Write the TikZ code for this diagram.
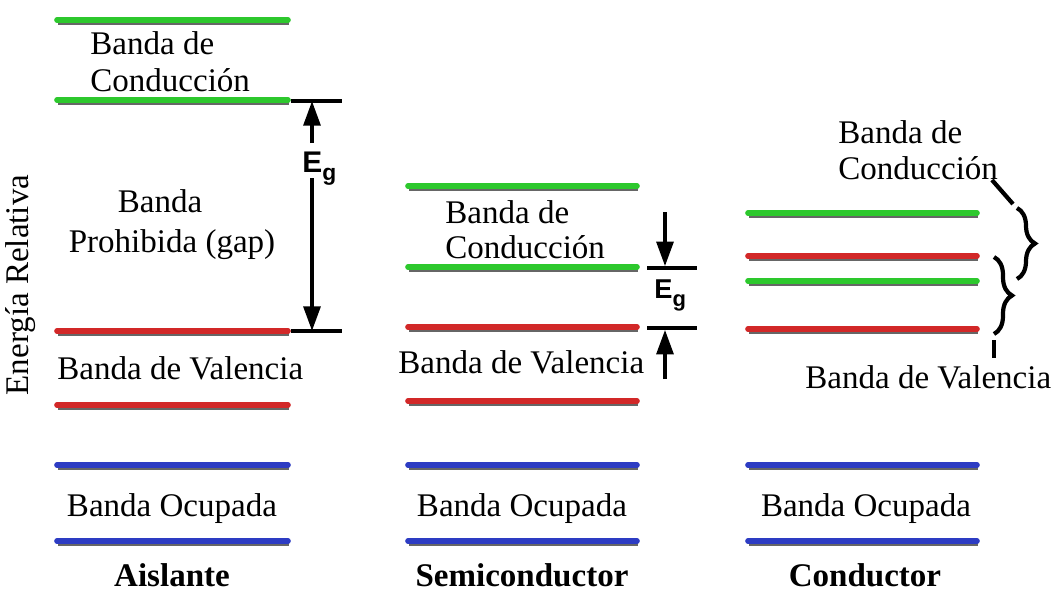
\documentclass[tikz,border=0pt]{standalone}
\usepackage{fontspec}
\setmainfont{Liberation Serif}
\newfontfamily\egfont{Liberation Sans}
\usepackage{tikz}
\usetikzlibrary{arrows.meta,decorations.pathreplacing,positioning}

\definecolor{bandgreen}{RGB}{45,200,45}
\definecolor{bandred}{RGB}{210,40,40}
\definecolor{bandblue}{RGB}{45,60,195}

\tikzset{
  band/.style={draw=#1, line width=3.2pt, line cap=round,
    preaction={draw=black!60, line width=3.2pt,
      transform canvas={shift={(0.6pt,-1.4pt)}}}},
  lbl/.style={inner sep=0pt, font=\fontsize{18.8}{22}\selectfont},
  ttl/.style={lbl, font=\fontsize{18.8}{22}\selectfont\bfseries},
  tick/.style={line width=2pt},
  gap/.style={line width=2.2pt, -{Triangle[length=14pt,width=9.5pt]}},
  eg/.style={inner sep=0pt, font=\egfont\bfseries\fontsize{17}{20}\selectfont},
  brc/.style={line width=2.4pt, decorate, decoration={brace, amplitude=0.36cm}}
}

\begin{document}
\begin{tikzpicture}[x=0.02cm,y=-0.02cm]
	\useasboundingbox (0,0) rectangle (1061,592);
	% Aislante
	\draw[band=bandgreen] (57,20) -- (288,20);
	\draw[band=bandgreen] (57,100) -- (288,100);
	\draw[band=bandred] (57,331) -- (288,331);
	\draw[band=bandred] (57,405) -- (288,405);
	\draw[band=bandblue] (57,465) -- (288,465);
	\draw[band=bandblue] (57,541) -- (288,541);
	\node[lbl,anchor=base west] (a_c1) at (90,54) {Banda de};
	\node[lbl,anchor=base west] (a_c2) at (90,91) {Conducción};
	\node[lbl,anchor=base] (a_p1) at (160,212) {Banda};
	\node[lbl,anchor=base] (a_p2) at (172,252) {Prohibida (gap)};
	\node[lbl,anchor=base west] (a_v) at (57,379) {Banda de Valencia};
	\node[lbl,anchor=base] (a_o) at (172,516) {Banda Ocupada};
	\node[ttl,anchor=base] (a_t) at (172,586) {Aislante};
	\coordinate (a_t1) at (291,101);
	\coordinate (a_t2) at (342,101);
	\coordinate (a_b1) at (291,331);
	\coordinate (a_b2) at (342,331);
	\coordinate (a_u) at (312,143);
	\coordinate (a_d) at (312,178);
	\draw[tick] (a_t1) -- (a_t2);
	\draw[tick] (a_b1) -- (a_b2);
	\draw[gap] (a_u) -- (a_u |- a_t1);
	\draw[gap] (a_d) -- (a_d |- a_b1);
	\node[eg,anchor=base west] (a_eg) at (302,172) {E\raisebox{-0.55ex}{\fontsize{13}{14}\selectfont g}};
	% Semiconductor
	\draw[band=bandgreen] (408,186) -- (637,186);
	\draw[band=bandgreen] (408,267) -- (637,267);
	\draw[band=bandred] (408,327) -- (637,327);
	\draw[band=bandred] (408,401) -- (637,401);
	\draw[band=bandblue] (408,465) -- (637,465);
	\draw[band=bandblue] (408,541) -- (637,541);
	\node[lbl,anchor=base west] (s_c1) at (445,223) {Banda de};
	\node[lbl,anchor=base west] (s_c2) at (445,258) {Conducción};
	\node[lbl,anchor=base west] (s_v) at (398,373) {Banda de Valencia};
	\node[lbl,anchor=base] (s_o) at (522,516) {Banda Ocupada};
	\node[ttl,anchor=base] (s_t) at (522,586) {Semiconductor};
	\coordinate (s_t1) at (647,268);
	\coordinate (s_t2) at (697,268);
	\coordinate (s_b1) at (647,328);
	\coordinate (s_b2) at (697,328);
	\coordinate (s_u) at (665,212);
	\coordinate (s_d) at (665,379);
	\draw[tick] (s_t1) -- (s_t2);
	\draw[tick] (s_b1) -- (s_b2);
	\draw[gap] (s_u) -- ([yshift=1pt]s_u |- s_t1);
	\draw[gap] (s_d) -- ([yshift=-1pt]s_d |- s_b1);
	\node[eg,anchor=base west,font=\egfont\bfseries\fontsize{15.5}{18}\selectfont] (s_eg) at (654,298) {E\raisebox{-0.6ex}{\fontsize{12.5}{14}\selectfont g}};
	% Conductor
	\draw[band=bandgreen] (748,213) -- (977,213);
	\draw[band=bandred] (748,256) -- (977,256);
	\draw[band=bandgreen] (748,281) -- (977,281);
	\draw[band=bandred] (748,329) -- (977,329);
	\draw[band=bandblue] (748,465) -- (977,465);
	\draw[band=bandblue] (748,541) -- (977,541);
	\node[lbl,anchor=base west] (c_c1) at (838,143) {Banda de};
	\node[lbl,anchor=base west] (c_c2) at (838,179) {Conducción};
	\node[lbl,anchor=base west] (c_v) at (805,388) {Banda de Valencia};
	\node[lbl,anchor=base] (c_o) at (866,516) {Banda Ocupada};
	\node[ttl,anchor=base] (c_t) at (865,586) {Conductor};
	\coordinate (c_k1) at (992,180);
	\coordinate (c_k2) at (1013,204);
	\coordinate (c_k3) at (994,340);
	\coordinate (c_k4) at (994,358);
	\draw[brc] (1017,208) -- (1017,279);
	\draw[brc] (994,257) -- (994,334);
	\draw[line width=2.4pt] (c_k1) -- (c_k2);
	\draw[line width=2.4pt] (c_k3) -- (c_k4);
	% eje
	\node[lbl,rotate=90] (eje) at (21,285) {Energía Relativa};
\end{tikzpicture}
\end{document}
